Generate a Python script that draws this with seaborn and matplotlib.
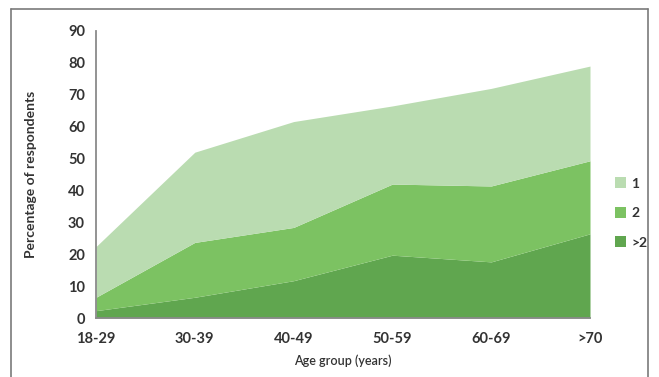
import numpy as np
import matplotlib
matplotlib.use("Agg")
import matplotlib.pyplot as plt
import seaborn as sns
from matplotlib.lines import Line2D
from matplotlib.patches import Patch

# data (percent of respondents, stacked)
age_groups = ["18-29", "30-39", "40-49", "50-59", "60-69", ">70"]
more_than_two = [2.3, 6.5, 11.7, 19.7, 17.6, 26.4]
two = [4.2, 17.2, 16.7, 22.3, 23.8, 22.9]
one = [15.9, 28.3, 33.2, 24.5, 30.6, 29.7]
series_labels = ["1", "2", ">2"]
colors = {"1": "#badcb1", "2": "#7cc262", ">2": "#60a64f"}

sns.set_theme(style="white")
plt.rcParams["font.family"] = ["Lato", "DejaVu Sans"]

fig = plt.figure(figsize=(6.59, 3.77), dpi=100)
ax = fig.add_axes([96 / 659, 1 - 318 / 377, (590 - 96) / 659, (318 - 31) / 377])

x = np.arange(len(age_groups))
ax.stackplot(x, more_than_two, two, one,
             colors=[colors[">2"], colors["2"], colors["1"]], linewidth=0)

ax.set_xlim(0, len(age_groups) - 1)
ax.set_ylim(0, 90)
ax.set_yticks(range(0, 91, 10))
ax.set_xticks(x)
ax.set_xticklabels(age_groups)

sns.despine(ax=ax)
for side in ["left", "bottom"]:
    ax.spines[side].set_color("#8a8a8a")
    ax.spines[side].set_linewidth(1.3)
ax.tick_params(axis="both", direction="out", length=4, width=1.3, color="#8a8a8a",
               labelsize=10.5, labelcolor="#333333", pad=4)
ax.tick_params(axis="x", pad=6)
for lbl in ax.get_xticklabels() + ax.get_yticklabels():
    lbl.set_fontweight("bold")

ax.set_ylabel("Percentage of respondents", fontsize=10, fontweight="bold",
              color="#333333", labelpad=22)
ax.set_xlabel("Age group (years)", fontsize=9, fontweight="semibold",
              color="#333333", labelpad=6)

handles = [Patch(facecolor=colors[s], edgecolor="none") for s in series_labels]
fig.legend(handles, series_labels, loc="center left",
           bbox_to_anchor=(602 / 659, 1 - 213 / 377), frameon=False,
           handlelength=0.8, handleheight=0.8, handletextpad=0.4,
           labelspacing=1.25, prop={"size": 10, "weight": "bold"},
           labelcolor="#333333")

# outer frame around the figure
frame_kw = dict(color="#7a7a7a", linewidth=1.2, transform=fig.transFigure)
l, r, t = 11 / 659, 648 / 659, 1 - 9 / 377
fig.add_artist(Line2D([l, r], [t, t], **frame_kw))
fig.add_artist(Line2D([l, l], [t, 0], **frame_kw))
fig.add_artist(Line2D([r, r], [t, 0], **frame_kw))

fig.savefig("out.png", dpi=100)
